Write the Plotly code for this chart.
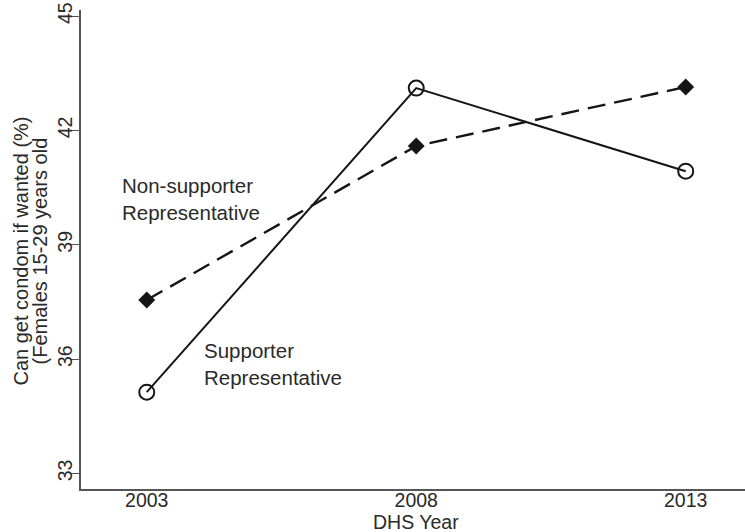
import plotly.graph_objects as go

years = [2003, 2008, 2013]
supporter = [35.13, 43.11, 40.93]
non_supporter = [37.55, 41.59, 43.14]
y_ticks = [33, 36, 39, 42, 45]

font = "Liberation Sans, Arial, sans-serif"
txt = "#2a2a2a"
fig = go.Figure()
fig.add_trace(go.Scatter(
    x=years, y=non_supporter, mode="lines+markers",
    line=dict(color="#151515", width=2.4, dash="18px,9px"),
    marker=dict(symbol="diamond", size=13, color="#151515"),
    name="Non-supporter Representative"))
fig.add_trace(go.Scatter(
    x=years, y=supporter, mode="lines+markers",
    line=dict(color="#151515", width=2),
    marker=dict(symbol="circle-open", size=15, color="#151515", line=dict(width=2)),
    name="Supporter Representative"))

fig.add_annotation(x=2002.50, y=40.19, xref="x", yref="y",
                   text="Non-supporter<br>Representative", showarrow=False,
                   xanchor="left", yanchor="middle", align="left",
                   font=dict(family=font, size=20.5, color=txt))
fig.add_annotation(x=2004.02, y=35.88, xref="x", yref="y",
                   text="Supporter<br>Representative", showarrow=False,
                   xanchor="left", yanchor="middle", align="left",
                   font=dict(family=font, size=20.5, color=txt))

# axis titles
fig.add_annotation(x=0, y=0.5, xref="paper", yref="paper", text="Can get condom if wanted (%)",
                   textangle=-90, showarrow=False, xanchor="center", yanchor="middle",
                   xshift=-61, yshift=-2, font=dict(family=font, size=20, color=txt))
fig.add_annotation(x=0, y=0.5, xref="paper", yref="paper", text="(Females 15-29 years old",
                   textangle=-90, showarrow=False, xanchor="center", yanchor="middle",
                   xshift=-42, yshift=-2, font=dict(family=font, size=20, color=txt))
fig.add_annotation(x=2008, y=0, xref="x", yref="paper", text="DHS Year",
                   showarrow=False, xanchor="center", yanchor="middle",
                   yshift=-33, font=dict(family=font, size=19.5, color=txt))

fig.update_layout(
    width=745, height=532,
    margin=dict(l=81, r=0, t=10, b=43, autoexpand=False),
    plot_bgcolor="white", paper_bgcolor="white",
    showlegend=False,
    font=dict(family=font, size=19, color=txt),
)
fig.update_xaxes(
    range=[2001.78, 2014.1], tickvals=years, ticktext=[str(y) for y in years],
    showgrid=False, zeroline=False, showline=True, linecolor="#555", linewidth=1.5,
    ticks="", tickfont=dict(size=19.5), automargin=False, ticklabelstandoff=-7,
)
fig.update_yaxes(
    range=[32.59, 45.16], tickvals=y_ticks, ticktext=[str(v) for v in y_ticks],
    tickangle=-90,
    showgrid=False, zeroline=False, showline=True, linecolor="#555", linewidth=1.5,
    ticks="outside", ticklen=8, tickcolor="#555", tickwidth=1.2, tickfont=dict(size=19.5),
    automargin=False, ticklabelstandoff=-9,
)
# remove the page's default 8px body margin so the figure fills the window exactly
fig.write_html("out.html", config={"displayModeBar": False},
               post_script="document.body.style.margin='0';")
